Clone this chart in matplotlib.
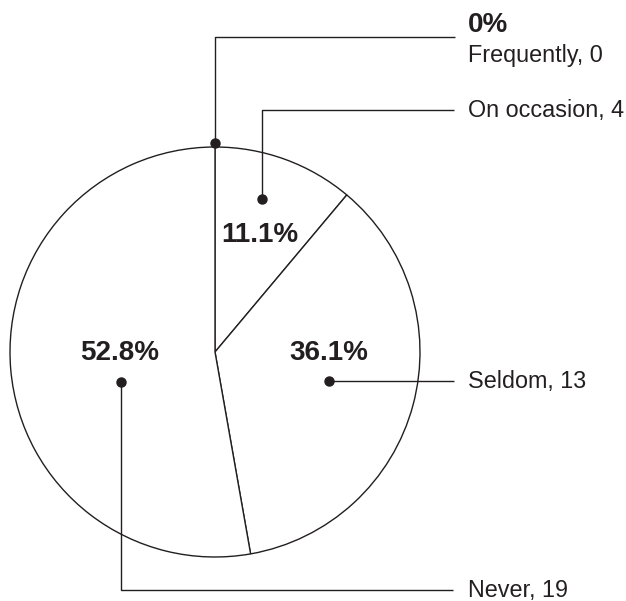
import matplotlib
matplotlib.use("Agg")
import matplotlib.pyplot as plt

plt.rcParams['font.family'] = ['Liberation Sans', 'DejaVu Sans']

# survey answers
categories = ["Frequently", "On occasion", "Seldom", "Never"]
counts = [0, 4, 13, 19]

INK = "#231f20"
W, H = 626, 601


def py(y):
    # pixel row -> data y (origin bottom-left)
    return H - y


fig = plt.figure(figsize=(W / 100, H / 100), dpi=100)
ax = fig.add_axes([0, 0, 1, 1])
ax.set_xlim(0, W)
ax.set_ylim(0, H)
ax.set_aspect('equal')
ax.axis('off')

cx, cy, r = 215, py(352), 205
ax.pie(counts, radius=r, center=(cx, cy), startangle=90, counterclock=False,
       colors=['white'] * len(counts),
       wedgeprops=dict(edgecolor=INK, linewidth=1.0))
ax.set_xlim(0, W)
ax.set_ylim(0, H)

total = sum(counts)
pcts = [100.0 * c / total for c in counts]

# leader lines: dot, elbow path, label anchor
leaders = [
    [(215, 143), (215, 37), (455, 37)],
    [(262, 199), (262, 110), (454, 110)],
    [(329, 381), (454, 381)],
    [(121, 382), (121, 590), (453, 590)],
]
label_base = [62, 117, 388, 597]
pct_pos = [None, (260, 235), (329, 353), (120, 353)]

for i, pts in enumerate(leaders):
    xs = [p[0] for p in pts]
    ys = [py(p[1]) for p in pts]
    ax.plot(xs, ys, color=INK, lw=1.0, solid_capstyle='butt')
    ax.plot(xs[0], ys[0], 'o', color=INK, ms=6.5)
    ax.text(468, py(label_base[i]), f"{categories[i]}, {counts[i]}",
            fontsize=16.8, color=INK, ha='left', va='baseline')
    if pct_pos[i] is not None:
        x, y = pct_pos[i]
        ax.text(x, py(y), f"{pcts[i]:.1f}%", fontsize=20, fontweight='bold',
                color=INK, ha='center', va='center')

# zero slice gets its percentage above its label
ax.text(468, py(32), f"{pcts[0]:.0f}%", fontsize=20, fontweight='bold',
        color=INK, ha='left', va='baseline')

fig.savefig("out.png", dpi=100, facecolor='white')
